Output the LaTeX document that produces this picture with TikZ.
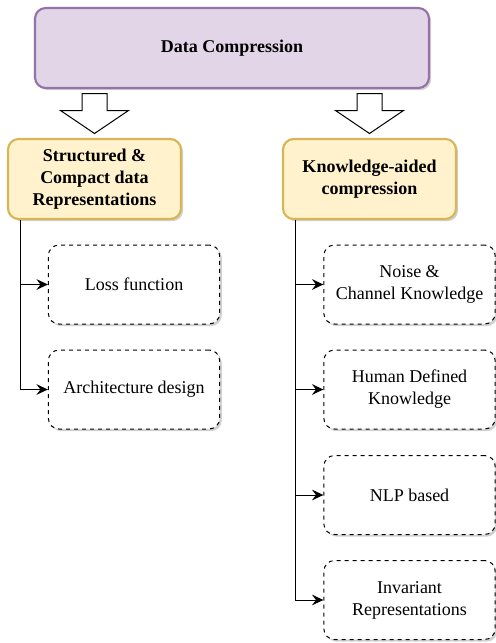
\documentclass[tikz,border=0pt]{standalone}
\usepackage{fontspec}
\setmainfont{LiberationSerif}[Extension=.ttf, UprightFont=*-Regular, BoldFont=*-Bold,
  ItalicFont=*-Italic, BoldItalicFont=*-BoldItalic]
\usepackage{tikz}
\usetikzlibrary{ positioning, % For easy node-relative placements
                 calc,        % For midpoints between nodes
                 shadows,
                 arrows.meta,
               }

\definecolor{topfill}{HTML}{E1D5E7}
\definecolor{topline}{HTML}{9673A6}
\definecolor{catfill}{HTML}{FFF2CC}
\definecolor{catline}{HTML}{D6B656}

\tikzset{
  boxshadow/.style={drop shadow={shadow xshift=1.6pt, shadow yshift=-1.6pt, opacity=0.3, fill=black!60}},
  rootbox/.style={draw=topline, fill=topfill, line width=1.6pt, rounded corners=8pt,
                  minimum width=295.5pt, minimum height=60pt, inner sep=0pt,
                  font=\bfseries\fontsize{13.5}{16.5}\selectfont, boxshadow},
  catbox/.style={draw=catline, fill=catfill, line width=1.6pt, rounded corners=8pt,
                 minimum width=129.75pt, minimum height=60pt, inner sep=0pt, align=center,
                 font=\bfseries\fontsize{13.5}{16.5}\selectfont, boxshadow},
  leafbox/.style={draw, dashed, fill=white, line width=0.75pt, rounded corners=8pt,
                  minimum width=128.5pt, minimum height=59.25pt, inner sep=0pt, align=center,
                  font=\fontsize{13.5}{16.5}\selectfont, boxshadow},
  blockarrow/.style={draw, fill=white, line width=0.75pt, line join=miter},
  branch/.style={line width=0.75pt, -{Stealth[length=8.5pt, width=8pt, inset=3pt]}},
}

\begin{document}
\begin{tikzpicture}[x=0.75pt, y=-0.75pt]
  \useasboundingbox (0,0) rectangle (496,643);

  \node[rootbox] (top) at (232,48) {Data Compression};

  \node[catbox] (struct) at (94.5,179) {Structured \&\\Compact data\\Representations};
  \node[catbox] (know) at (369.5,179) {Knowledge-aided\\compression};

  % hollow arrows between the levels
  \coordinate (arrL) at ($(top.south -| struct.north)!0.5!(struct.north)$);
  \coordinate (arrR) at ($(top.south -| know.north)!0.5!(know.north)$);
  \draw[blockarrow] (arrL) ++(-12.5,-20) -- ++(25,0) -- ++(0,17) -- ++(21.5,0)
        -- ++(-34,23) -- ++(-34,-23) -- ++(21.5,0) -- cycle;
  \draw[blockarrow] (arrR) ++(-12.5,-20) -- ++(25,0) -- ++(0,17) -- ++(21.5,0)
        -- ++(-34,23) -- ++(-34,-23) -- ++(21.5,0) -- cycle;

  % left branch
  \node[leafbox] (loss) at (134,284.5) {Loss function};
  \node[leafbox] (arch) at (134,389.5) {Architecture design};

  % right branch
  \node[leafbox] (noise) at (409.5,284.5) {Noise \&\\Channel Knowledge};
  \node[leafbox] (human) at (409.5,389.5) {Human Defined\\Knowledge};
  \node[leafbox] (nlp) at (409.5,495) {NLP based};
  \node[leafbox] (inv) at (409.5,600) {Invariant\\Representations};

  \coordinate (lstem) at ([xshift=10.5pt]struct.south west);
  \coordinate (rstem) at ([xshift=10.5pt]know.south west);

  \draw[branch] (lstem) |- (loss.west);
  \draw[branch] (lstem) |- (arch.west);

  \draw[branch] (rstem) |- (noise.west);
  \draw[branch] (rstem) |- (human.west);
  \draw[branch] (rstem) |- (nlp.west);
  \draw[branch] (rstem) |- (inv.west);
\end{tikzpicture}
\end{document}
